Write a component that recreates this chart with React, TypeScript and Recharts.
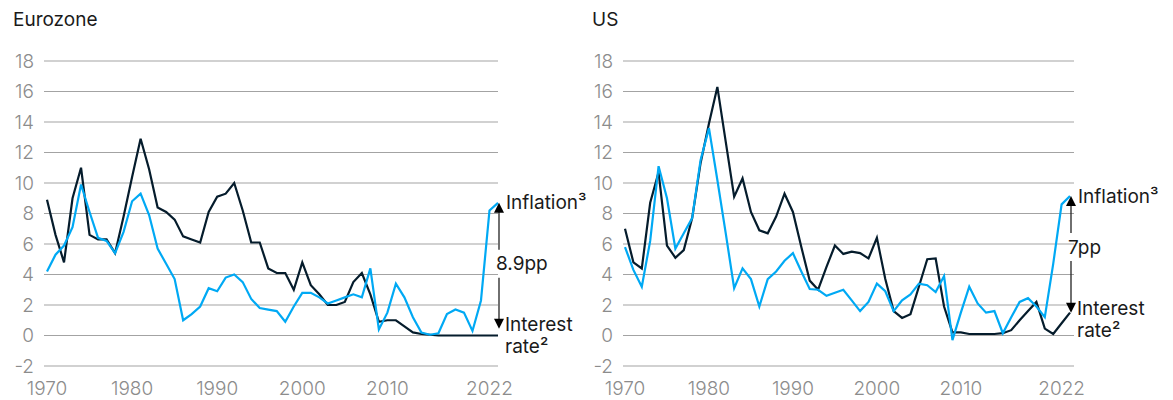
import React from "react";
import { LineChart, Line, XAxis, YAxis, CartesianGrid, ReferenceLine } from "recharts";

// yearly points, the last one is the latest 2022 reading
const years = [
  1970, 1971, 1972, 1973, 1974, 1975, 1976, 1977, 1978, 1979,
  1980, 1981, 1982, 1983, 1984, 1985, 1986, 1987, 1988, 1989,
  1990, 1991, 1992, 1993, 1994, 1995, 1996, 1997, 1998, 1999,
  2000, 2001, 2002, 2003, 2004, 2005, 2006, 2007, 2008, 2009,
  2010, 2011, 2012, 2013, 2014, 2015, 2016, 2017, 2018, 2019,
  2020, 2021, 2022, 2023,
];

const xTicks = [1970, 1980, 1990, 2000, 2010, 2022];
const yTicks = [-2, 0, 2, 4, 6, 8, 10, 12, 14, 16, 18];

const euroRate = [
  8.9, 6.6, 4.8, 9.0, 11.0, 6.6, 6.3, 6.3, 5.4, 7.8,
  10.4, 12.9, 10.9, 8.4, 8.1, 7.6, 6.5, 6.3, 6.1, 8.1,
  9.1, 9.3, 10.0, 8.2, 6.1, 6.1, 4.4, 4.1, 4.1, 3.0,
  4.8, 3.3, 2.7, 2.0, 2.0, 2.2, 3.5, 4.1, 2.7, 0.9,
  1.0, 1.0, 0.6, 0.2, 0.1, 0.05, 0, 0, 0, 0,
  0, 0, 0, 0,
];

const euroInflation = [
  4.2, 5.3, 5.9, 7.1, 9.9, 8.1, 6.4, 6.2, 5.4, 6.8,
  8.8, 9.3, 7.9, 5.7, 4.7, 3.7, 1.0, 1.4, 1.9, 3.1,
  2.9, 3.8, 4.0, 3.5, 2.4, 1.8, 1.7, 1.6, 0.9, 1.9,
  2.8, 2.8, 2.5, 2.1, 2.3, 2.5, 2.7, 2.5, 4.4, 0.4,
  1.5, 3.4, 2.5, 1.2, 0.2, 0.05, 0.15, 1.4, 1.7, 1.5,
  0.3, 2.3, 8.2, 8.7,
];

const usRate = [
  7.0, 4.8, 4.4, 8.7, 10.7, 5.9, 5.1, 5.6, 7.7, 11.3,
  13.9, 16.3, 12.7, 9.1, 10.3, 8.1, 6.9, 6.7, 7.8, 9.3,
  8.1, 5.8, 3.6, 3.0, 4.5, 5.9, 5.35, 5.5, 5.4, 5.05,
  6.4, 3.7, 1.6, 1.15, 1.4, 3.2, 5.0, 5.05, 1.9, 0.2,
  0.2, 0.1, 0.1, 0.1, 0.1, 0.15, 0.35, 1.0, 1.6, 2.2,
  0.45, 0.1, 0.8, 1.5,
];

const usInflation = [
  5.8, 4.3, 3.2, 6.2, 11.1, 9.0, 5.7, 6.7, 7.7, 11.5,
  13.6, 10.2, 6.7, 3.1, 4.4, 3.7, 1.9, 3.7, 4.2, 4.9,
  5.4, 4.2, 3.05, 3.0, 2.6, 2.8, 3.0, 2.3, 1.6, 2.2,
  3.4, 2.9, 1.6, 2.3, 2.7, 3.4, 3.3, 2.85, 3.9, -0.3,
  1.5, 3.2, 2.1, 1.5, 1.6, 0.15, 1.2, 2.2, 2.45, 1.9,
  1.2, 4.7, 8.6, 9.15,
];

// gap arrow: top / bottom / where the "pp" label sits (in % units)
const euroGap = { top: 8.7, bottom: 0.45, labelAt: 4.7, label: "8.9pp" };
const usGap = { top: 9.15, bottom: 1.5, labelAt: 5.8, label: "7pp" };

const FONT = "Inter, 'Noto Sans', sans-serif";
const NAVY = "#051c2c";
const CYAN = "#00a9f4";

const gapShape = (gap: any) => (props: any) => {
  const { x1, y1, y2 } = props;
  const x = x1 + 1;
  const ly = y1 + ((y2 - y1) * (gap.top - gap.labelAt)) / (gap.top - gap.bottom);
  const txt = { fontFamily: FONT, fontSize: 19, fill: "#1a1a1a" };
  return (
    <g>
      <line x1={x} x2={x} y1={y1 + 9} y2={ly - 14} stroke="#222" strokeWidth={1.3} />
      <line x1={x} x2={x} y1={ly + 14} y2={y2 - 9} stroke="#222" strokeWidth={1.3} />
      <polygon points={`${x},${y1} ${x - 5},${y1 + 10} ${x + 5},${y1 + 10}`} fill="#000" />
      <polygon points={`${x},${y2} ${x - 5},${y2 - 10} ${x + 5},${y2 - 10}`} fill="#000" />
      <text x={x + 7} y={y1} dy="0.35em" {...txt}>Inflation³</text>
      <text x={x - 3} y={ly} dy="0.35em" {...txt}>{gap.label}</text>
      <text x={x + 6} y={y2 - 4} dy="0.35em" {...txt}>Interest</text>
      <text x={x + 6} y={y2 + 18} dy="0.35em" {...txt}>rate²</text>
    </g>
  );
};

function Panel({ title, left, width, rate, inflation, gap, padding }: any) {
  const data = years.map((year, i) => ({ year, rate: rate[i], inflation: inflation[i] }));
  const last = years[years.length - 1];
  const tick = { fill: "#8c8c8c", fontSize: 19, fontFamily: FONT, fontWeight: 300 };
  return (
    <div style={{ position: "absolute", left, top: 0, width, height: 400 }}>
      <div
        style={{
          position: "absolute",
          left: 13,
          top: 10,
          fontFamily: FONT,
          fontSize: 19,
          lineHeight: "19px",
          color: "#1a1a1a",
        }}
      >
        {title}
      </div>
      <LineChart
        width={width}
        height={400}
        data={data}
        margin={{ top: 61, right: width - padding.plotRight, bottom: 4, left: 0 }}
      >
        <CartesianGrid horizontal vertical={false} stroke="#a3a3a3" strokeWidth={1} />
        <XAxis
          dataKey="year"
          type="number"
          domain={[1970, last]}
          ticks={xTicks}
          interval={0}
          axisLine={false}
          tickLine={false}
          tickSize={0}
          tickMargin={16}
          height={30}
          padding={{ left: padding.left, right: padding.right }}
          tick={tick}
        />
        <YAxis
          type="number"
          domain={[-2, 18]}
          ticks={yTicks}
          interval={0}
          axisLine={false}
          tickLine={false}
          tickSize={0}
          tickMargin={10}
          width={44}
          tick={tick}
        />
        <Line
          dataKey="rate"
          stroke={NAVY}
          strokeWidth={2.2}
          dot={false}
          activeDot={false}
          isAnimationActive={false}
        />
        <Line
          dataKey="inflation"
          stroke={CYAN}
          strokeWidth={2.2}
          dot={false}
          activeDot={false}
          isAnimationActive={false}
        />
        <ReferenceLine
          segment={[
            { x: last, y: gap.top },
            { x: last, y: gap.bottom },
          ]}
          ifOverflow="visible"
          shape={gapShape(gap)}
        />
      </LineChart>
    </div>
  );
}

export default function App() {
  return (
    <div
      style={{
        position: "absolute",
        left: 0,
        top: 0,
        width: 1173,
        height: 400,
        background: "#fff",
        overflow: "hidden",
      }}
    >
      <Panel
        title="Eurozone"
        left={0}
        width={595}
        rate={euroRate}
        inflation={euroInflation}
        gap={euroGap}
        padding={{ left: 3, right: 0, plotRight: 498 }}
      />
      <Panel
        title="US"
        left={579}
        width={594}
        rate={usRate}
        inflation={usInflation}
        gap={usGap}
        padding={{ left: 2, right: 4, plotRight: 1074 - 579 }}
      />
    </div>
  );
}
